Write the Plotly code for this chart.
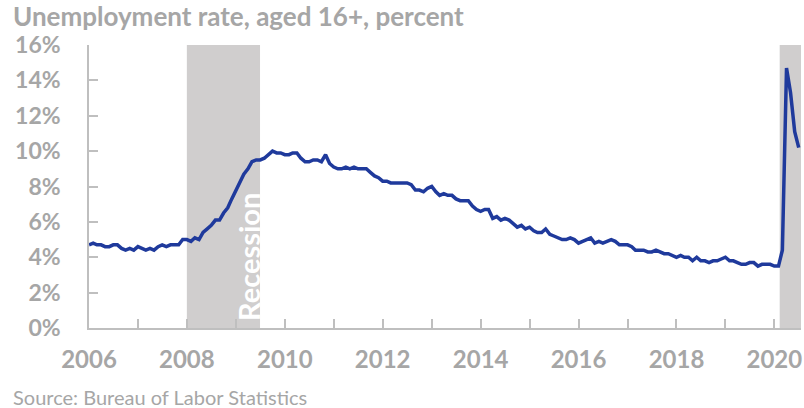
import plotly.graph_objects as go

# monthly unemployment rate, Jan 2006 - Jul 2020
rate = [
    4.7, 4.8, 4.7, 4.7, 4.6, 4.6, 4.7, 4.7, 4.5, 4.4, 4.5, 4.4,   # 2006
    4.6, 4.5, 4.4, 4.5, 4.4, 4.6, 4.7, 4.6, 4.7, 4.7, 4.7, 5.0,   # 2007
    5.0, 4.9, 5.1, 5.0, 5.4, 5.6, 5.8, 6.1, 6.1, 6.5, 6.8, 7.3,   # 2008
    7.8, 8.3, 8.7, 9.0, 9.4, 9.5, 9.5, 9.6, 9.8, 10.0, 9.9, 9.9,  # 2009
    9.8, 9.8, 9.9, 9.9, 9.6, 9.4, 9.4, 9.5, 9.5, 9.4, 9.8, 9.3,   # 2010
    9.1, 9.0, 9.0, 9.1, 9.0, 9.1, 9.0, 9.0, 9.0, 8.8, 8.6, 8.5,   # 2011
    8.3, 8.3, 8.2, 8.2, 8.2, 8.2, 8.2, 8.1, 7.8, 7.8, 7.7, 7.9,   # 2012
    8.0, 7.7, 7.5, 7.6, 7.5, 7.5, 7.3, 7.2, 7.2, 7.2, 6.9, 6.7,   # 2013
    6.6, 6.7, 6.7, 6.2, 6.3, 6.1, 6.2, 6.1, 5.9, 5.7, 5.8, 5.6,   # 2014
    5.7, 5.5, 5.4, 5.4, 5.6, 5.3, 5.2, 5.1, 5.0, 5.0, 5.1, 5.0,   # 2015
    4.8, 4.9, 5.0, 5.1, 4.8, 4.9, 4.8, 4.9, 5.0, 4.9, 4.7, 4.7,   # 2016
    4.7, 4.6, 4.4, 4.4, 4.4, 4.3, 4.3, 4.4, 4.3, 4.2, 4.2, 4.1,   # 2017
    4.0, 4.1, 4.0, 4.0, 3.8, 4.0, 3.8, 3.8, 3.7, 3.8, 3.8, 3.9,   # 2018
    4.0, 3.8, 3.8, 3.7, 3.6, 3.6, 3.7, 3.7, 3.5, 3.6, 3.6, 3.6,   # 2019
    3.5, 3.5, 4.4, 14.7, 13.3, 11.1, 10.2,                        # 2020
]

recession_start = ["2008-01-01", "2020-02-10"]
recession_end = ["2009-06-30", "2020-07-20"]

year_ticks = [f"{y}-01-01" for y in range(2006, 2021)]
year_labels = [str(y) if y % 2 == 0 else "" for y in range(2006, 2021)]
y_ticks = [0, 2, 4, 6, 8, 10, 12, 14, 16]
y_labels = [f"{v}%" for v in y_ticks]

GRAY = "#A6A6A6"
FONT = "Lato"
W, H = 804, 408
L, R, T, B = 89, 3, 45, 80

months = []
for i in range(len(rate)):
    yy = 2006 + i // 12
    mm = i % 12 + 1
    months.append(f"{yy}-{mm:02d}-01")

fig = go.Figure()

for s, e in zip(recession_start, recession_end):
    fig.add_vrect(x0=s, x1=e, fillcolor="#D0CECE", opacity=1, line_width=0, layer="below")

fig.add_trace(go.Scatter(x=months, y=rate, mode="lines",
                         line=dict(color="#1F3A9C", width=3.5), hoverinfo="skip"))

fig.add_annotation(x="2009-04-01", y=0, xref="x", yref="y", text="<b>Recession</b>",
                   textangle=-90, showarrow=False, yanchor="bottom", yshift=5,
                   font=dict(family=FONT, size=29, color="white"))

pw, ph = W - L - R, H - T - B
fig.add_annotation(x=-(L - 11) / pw, y=1 + (T - 16) / ph, xref="paper", yref="paper",
                   text="<b>Unemployment rate, aged 16+, percent</b>",
                   showarrow=False, xanchor="left", yanchor="middle",
                   font=dict(family=FONT, size=26, color=GRAY))
fig.add_annotation(x=-(L - 11) / pw, y=-(397 - (H - B)) / ph, xref="paper", yref="paper",
                   text="Source: Bureau of Labor Statistics",
                   showarrow=False, xanchor="left", yanchor="middle",
                   font=dict(family=FONT, size=20, color=GRAY))

fig.update_layout(
    width=W, height=H,
    margin=dict(l=L, r=R, t=T, b=B, autoexpand=False),
    paper_bgcolor="white", plot_bgcolor="white",
    showlegend=False,
    font=dict(family=FONT, color=GRAY),
)

fig.update_xaxes(type="date", range=["2006-01-01", "2020-07-18"], automargin=False,
                 tickvals=year_ticks, ticktext=year_labels,
                 ticks="inside", ticklen=9, tickcolor="#BFBFBF", tickwidth=1.5,
                 showline=True, linecolor="#BFBFBF", linewidth=1.5,
                 showgrid=False, zeroline=False,
                 ticklabelstandoff=9,
                 tickfont=dict(family=FONT, size=24, color=GRAY, weight="bold"))
fig.update_yaxes(range=[0, 16], automargin=False, tickvals=y_ticks, ticktext=y_labels,
                 ticks="inside", ticklen=9, tickcolor="#BFBFBF", tickwidth=1.5,
                 showline=True, linecolor="#BFBFBF", linewidth=1.5,
                 showgrid=False, zeroline=False,
                 ticklabelstandoff=22,
                 tickfont=dict(family=FONT, size=23, color=GRAY, weight="bold"))

fig.write_html("out.html", config={"displayModeBar": False},
               post_script="document.body.style.margin='0';")
